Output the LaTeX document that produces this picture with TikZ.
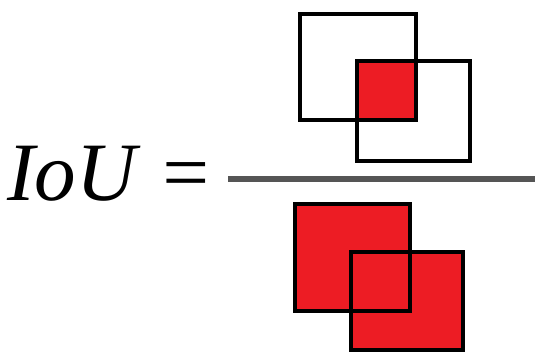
\documentclass[tikz,border=0pt]{standalone}
\usepackage{fontspec}
\setmainfont{Liberation Serif}
\definecolor{IoURed}{RGB}{237,28,36}
\definecolor{BarGray}{RGB}{85,85,85}
\usetikzlibrary{positioning}

\begin{document}
\begin{tikzpicture}[x=1pt, y=-1pt,
	boxline/.style={draw=black, line width=3.5pt},
	boxfill/.style={fill=IoURed}]
	\useasboundingbox (0,0) rectangle (535,353);

	% formula text
	\node[anchor=base west, inner sep=0pt, font=\fontsize{83}{83}\selectfont\itshape] (lhs) at (7,200) {IoU =};

	% fraction bar
	\coordinate (barL) at (228,179);
	\coordinate (barR) at (535,179);
	\draw[BarGray, line width=5.5pt] (barL) -- (barR);

	% numerator: overlap
	\fill[boxfill] (357,61) rectangle (416,120);
	\draw[boxline] (300,14) rectangle (416,120);
	\draw[boxline] (357,61) rectangle (470,161);

	% denominator: union
	\fill[boxfill] (295,204) rectangle (410,311);
	\fill[boxfill] (351,252) rectangle (463,350);
	\draw[boxline] (295,204) rectangle (410,311);
	\draw[boxline] (351,252) rectangle (463,350);
\end{tikzpicture}
\end{document}
